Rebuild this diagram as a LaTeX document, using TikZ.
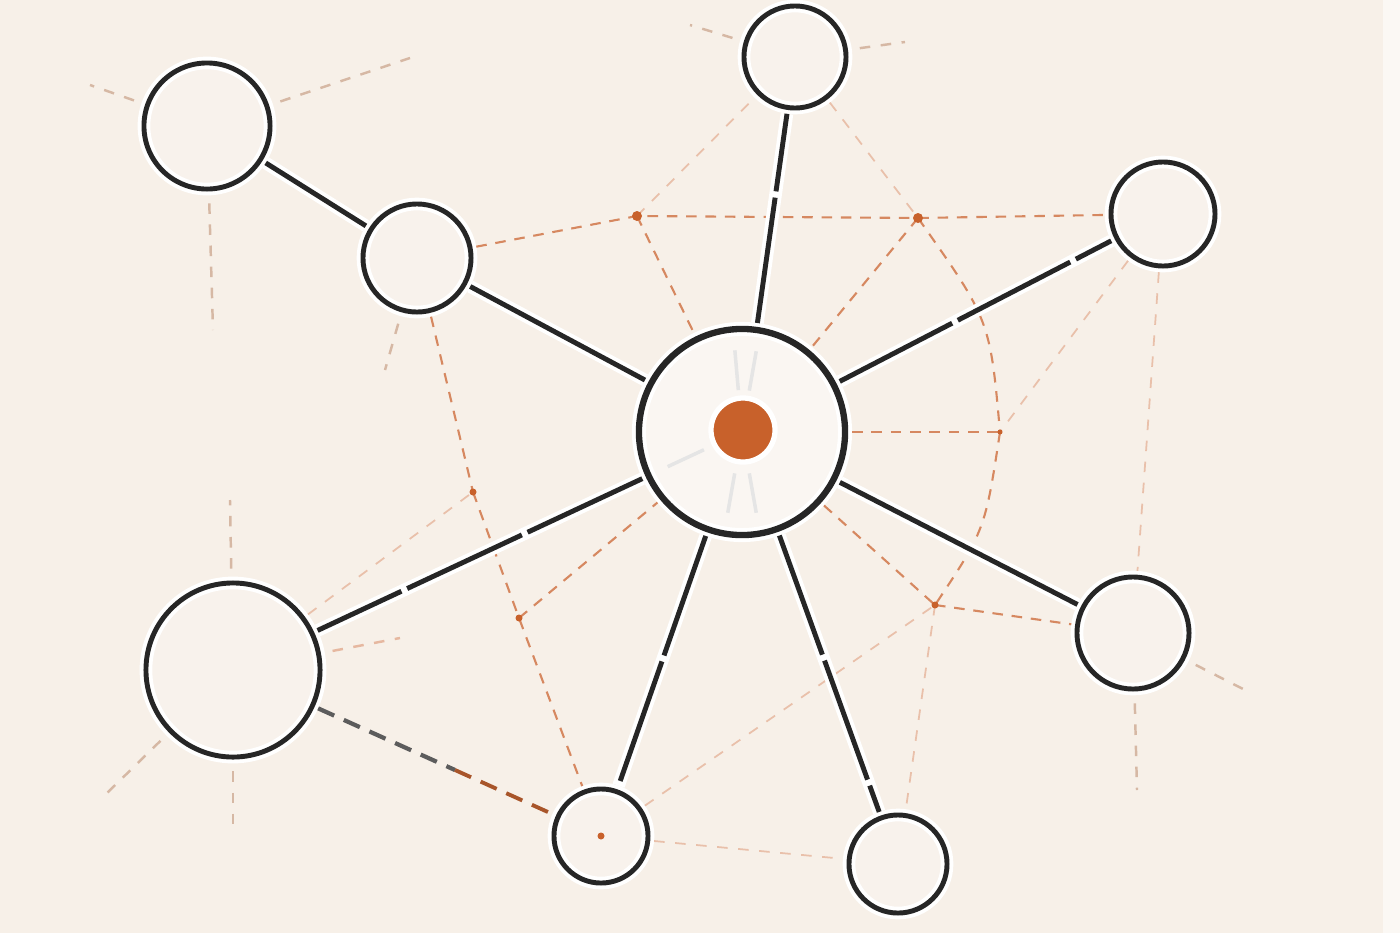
\documentclass[tikz,border=0pt]{standalone}
\usepackage{xcolor}
\usepackage{tikz}
\usetikzlibrary{positioning}

\definecolor{paper}{HTML}{F7F0E8}
\definecolor{edge}{HTML}{FBF8F4}
\definecolor{ink}{HTML}{262626}
\definecolor{rust}{HTML}{C8612B}
\definecolor{fillc}{HTML}{F8F2EC}
\definecolor{hubfill}{HTML}{FAF6F2}
\definecolor{dust}{HTML}{D6B8A4}

\begin{document}
\begin{tikzpicture}[x=0.01cm, y=-0.01cm,
    netnode/.style={circle, inner sep=0pt, fill=fillc, draw=white, line width=3.6pt, postaction={draw=ink, line width=1.4pt}},
    hubnode/.style={circle, inner sep=0pt, fill=hubfill, draw=white, line width=4pt, postaction={draw=ink, line width=1.8pt}},
    spoke/.style={draw=ink, line width=1.4pt, preaction={draw=white, line width=3.6pt}},
    brokenspoke/.style={spoke, dash pattern=on 36pt off 1.8pt},
    link/.style={draw=rust!75, line width=0.6pt, dash pattern=on 3pt off 2.5pt},
    faint/.style={draw=rust!40, line width=0.5pt, dash pattern=on 3pt off 3pt},
    stub/.style={draw=dust, line width=0.7pt, dash pattern=on 3pt off 3pt, shorten <=0.08cm},
    junction/.style={circle, fill=rust, inner sep=0pt, minimum size=#1},
    junction/.default=0.07cm]

    % Background
    \fill[paper] (0,0) rectangle (1400,933);
    \fill[edge] (1383,0) rectangle (1400,933);
    \useasboundingbox (0,0) rectangle (1400,933);

    % Nodes
    \node[hubnode, minimum size=2.06cm] (hub) at (742,432) {};
    \node[netnode, minimum size=1.26cm] (tl) at (207,126) {};
    \node[netnode, minimum size=1.08cm] (ml) at (417,258) {};
    \node[netnode, minimum size=1.02cm] (t) at (795,57) {};
    \node[netnode, minimum size=1.04cm] (r1) at (1163,214) {};
    \node[netnode, minimum size=1.12cm] (r2) at (1133,633) {};
    \node[netnode, minimum size=0.98cm] (br) at (898,864) {};
    \node[netnode, minimum size=0.94cm] (bm) at (601,836) {};
    \node[netnode, minimum size=1.74cm] (ll) at (233,670) {};

    % Junctions
    \coordinate (A) at (637,216);
    \coordinate (B) at (918,218);
    \coordinate (C) at (935,605);
    \coordinate (D) at (473,492);
    \coordinate (E) at (519,618);
    \coordinate (F) at (1000,432);
    \coordinate (G) at (455,770);

    % Stub ends
    \coordinate (s1) at (410,58);
    \coordinate (s2) at (90,85);
    \coordinate (s3) at (213,330);
    \coordinate (s4) at (230,500);
    \coordinate (s5) at (233,830);
    \coordinate (s6) at (105,795);
    \coordinate (s7) at (400,638);
    \coordinate (s8) at (1137,790);
    \coordinate (s9) at (1245,690);
    \coordinate (s10) at (690,25);
    \coordinate (s11) at (905,42);
    \coordinate (s12) at (385,370);

    % Faint rays in the hub
    \foreach \a in {80,100,155,265,280}
        \draw[gray!20, line width=1pt] (hub.center) ++(\a:42) -- ++(\a:40);

    % Stubs
    \draw[stub] (tl) -- (s1);
    \draw[stub] (tl) -- (s2);
    \draw[stub] (tl) -- (s3);
    \draw[stub] (ll) -- (s4);
    \draw[stub] (ll) -- (s5);
    \draw[stub] (ll) -- (s6);
    \draw[stub, draw=rust!45] (ll) -- (s7);
    \draw[stub] (r2) -- (s8);
    \draw[stub] (r2) -- (s9);
    \draw[stub] (t) -- (s10);
    \draw[stub] (t) -- (s11);
    \draw[stub] (ml) -- (s12);

    % Orange links
    \draw[link] (ml) -- (A) -- (B) -- (r1);
    \draw[link] (A) -- (hub);
    \draw[faint] (A) -- (t);
    \draw[link] (B) -- (hub);
    \draw[faint] (t) -- (B);
    \draw[link] (B) .. controls (990,320) .. (F);
    \draw[link] (hub) -- (F);
    \draw[faint] (r1) -- (F);
    \draw[link] (F) .. controls (985,530) .. (C);
    \draw[link] (hub) -- (C);
    \draw[link] (C) -- (r2);
    \draw[faint] (C) -- (br);
    \draw[link] (ml) -- (D);
    \draw[link] (D) -- (E) -- (bm);
    \draw[faint] (ll) -- (D);
    \draw[link] (E) -- (hub);
    \draw[faint] (bm) -- (C);
    \draw[faint] (bm) -- (br);
    \draw[faint] (r1) -- (r2);

    % Connections
    \draw[brokenspoke] (hub) -- (t);
    \draw[brokenspoke] (hub) -- (r1);
    \draw[spoke] (hub) -- (r2);
    \draw[brokenspoke] (hub) -- (br);
    \draw[brokenspoke] (hub) -- (bm);
    \draw[brokenspoke] (hub) -- (ll);
    \draw[spoke] (hub) -- (ml);
    \draw[brokenspoke] (ml) -- (tl);
    \draw[ink!75, line width=1.2pt, dash pattern=on 5pt off 3pt] (ll) -- (G);
    \draw[rust!80!ink, line width=1.1pt, dash pattern=on 5pt off 3pt] (G) -- (bm);

    % Junction dots
    \node[junction=0.1cm] at (A) {};
    \node[junction=0.1cm] at (B) {};
    \node[junction] at (C) {};
    \node[junction] at (D) {};
    \node[junction] at (E) {};
    \node[junction=0.05cm] at (F) {};
    \node[junction=0.07cm] at (bm.center) {};

    % Core
    \node[circle, inner sep=0pt, fill=rust, draw=white, line width=1.5pt, minimum size=0.64cm] (core) at (743,430) {};
\end{tikzpicture}
\end{document}
